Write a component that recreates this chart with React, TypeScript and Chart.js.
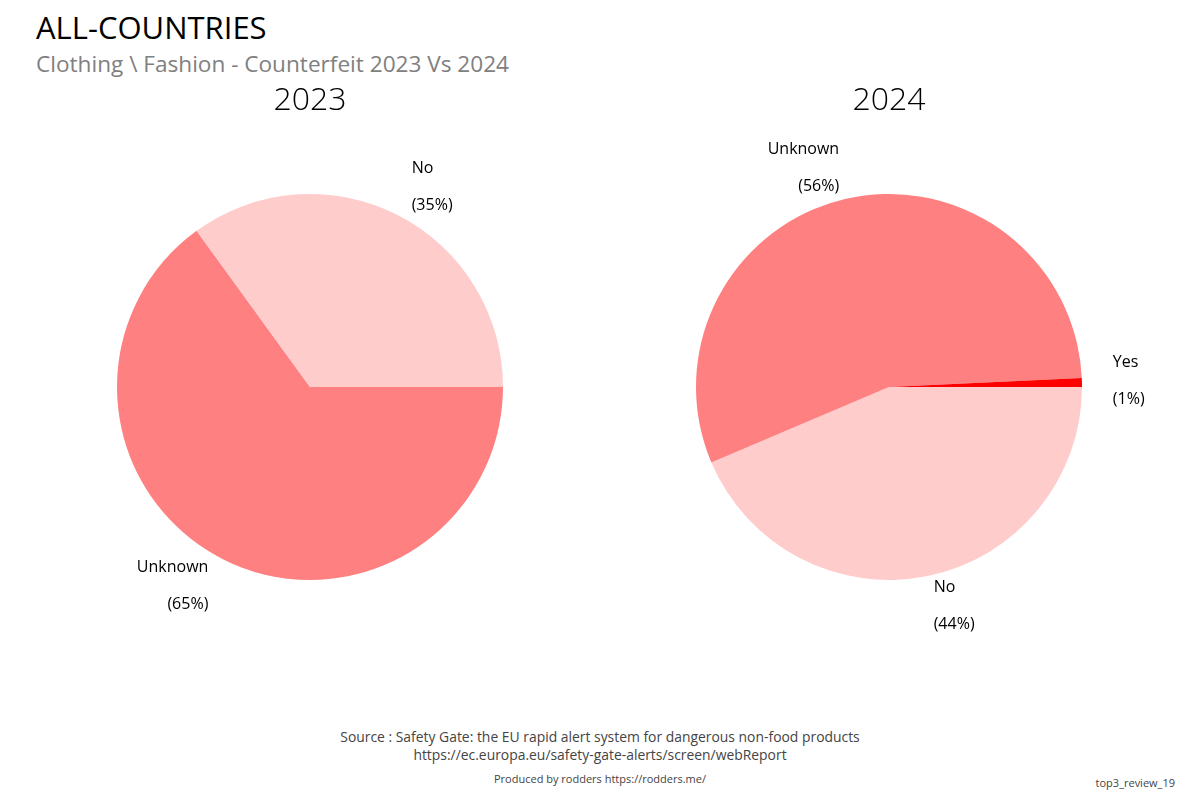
import React, { useEffect, useRef } from "react";
import { Chart, registerables } from "chart.js";

Chart.register(...registerables);

const MAIN_TITLE = "ALL-COUNTRIES";
const SUB_TITLE = "Clothing \\ Fashion - Counterfeit 2023 Vs 2024";
const YEARS = ["2023", "2024"];
// Chart.js draws clockwise from 3 o'clock (rotation 90)
const CATS_2023 = ["Unknown", "No"];
const VALUES_2023 = [65, 35];
const COLORS_2023 = ["#FF8080", "#FFCCCC"];
const CATS_2024 = ["No", "Unknown", "Yes"];
const VALUES_2024 = [58, 74, 1];
const COLORS_2024 = ["#FFCCCC", "#FF8080", "#FF0000"];
const SOURCE_1 = "Source : Safety Gate: the EU rapid alert system for dangerous non-food products";
const SOURCE_2 = "https://ec.europa.eu/safety-gate-alerts/screen/webReport";
const PRODUCED = "Produced by rodders https://rodders.me/";
const TAG = "top3_review_19";

const CW = 580;
const CH = 600;

const outsideLabels = {
  id: "outsideLabels",
  afterDraw(chart: any) {
    const ctx = chart.ctx;
    const meta = chart.getDatasetMeta(0);
    const data = chart.data.datasets[0].data as number[];
    const total = data.reduce((a, b) => a + b, 0);
    ctx.save();
    ctx.font = "16px 'Open Sans'";
    ctx.fillStyle = "#000";
    ctx.textBaseline = "middle";
    meta.data.forEach((arc: any, i: number) => {
      const p = arc.getProps(["x", "y", "startAngle", "endAngle", "outerRadius"], true);
      const mid = (p.startAngle + p.endAngle) / 2;
      const d = p.outerRadius * 1.16;
      const x = p.x + Math.cos(mid) * d;
      const y = p.y + Math.sin(mid) * d - 0.5;
      ctx.textAlign = Math.cos(mid) >= 0 ? "left" : "right";
      const pct = Math.round((data[i] / total) * 100);
      ctx.fillText(String(chart.data.labels[i]), x, y - 18.5);
      ctx.fillText("(" + pct + "%)", x, y + 18.5);
    });
    ctx.restore();
  },
};

function Pie({ labels, values, colors, left }: { labels: string[]; values: number[]; colors: string[]; left: number }) {
  const ref = useRef<HTMLCanvasElement | null>(null);
  useEffect(() => {
    if (!ref.current) return;
    const chart = new Chart(ref.current, {
      type: "pie",
      data: {
        labels,
        datasets: [{ data: values, backgroundColor: colors, borderWidth: 0 }],
      },
      options: {
        responsive: false,
        animation: false,
        rotation: 90,
        layout: { padding: { left: 97, right: 97, top: 107, bottom: 107 } },
        plugins: { legend: { display: false }, tooltip: { enabled: false }, title: { display: false } },
      },
      plugins: [outsideLabels],
    });
    return () => chart.destroy();
  }, []);
  return (
    <canvas
      ref={ref}
      width={CW}
      height={CH}
      style={{ position: "absolute", left, top: 87, width: CW, height: CH }}
    />
  );
}

export default function App() {
  const font = "'Open Sans', sans-serif";
  return (
    <div style={{ position: "fixed", left: 0, top: 0, width: 1200, height: 800, background: "#fff", overflow: "hidden", fontFamily: font }}>
      <Pie labels={CATS_2023} values={VALUES_2023} colors={COLORS_2023} left={20} />
      <Pie labels={CATS_2024} values={VALUES_2024} colors={COLORS_2024} left={599} />
      <div style={{ position: "absolute", left: 36, top: 7, fontSize: 31, color: "#000", lineHeight: "40px", whiteSpace: "nowrap" }}>{MAIN_TITLE}</div>
      <div style={{ position: "absolute", left: 36, top: 49, fontSize: 22.6, fontWeight: 500, color: "#808080", lineHeight: "30px", whiteSpace: "nowrap" }}>{SUB_TITLE}</div>
      <div style={{ position: "absolute", left: 310 - 150, width: 300, top: 76, textAlign: "center", fontSize: 32, fontWeight: 300, lineHeight: "44px" }}>{YEARS[0]}</div>
      <div style={{ position: "absolute", left: 889 - 150, width: 300, top: 76, textAlign: "center", fontSize: 32, fontWeight: 300, lineHeight: "44px" }}>{YEARS[1]}</div>
      <div style={{ position: "absolute", left: 0, width: 1200, top: 728, textAlign: "center", fontSize: 13.9, color: "#444", lineHeight: "18px" }}>
        <div>{SOURCE_1}</div>
        <div>{SOURCE_2}</div>
      </div>
      <div style={{ position: "absolute", left: 0, width: 1200, top: 771, textAlign: "center", fontSize: 11, color: "#444", lineHeight: "16px" }}>{PRODUCED}</div>
      <div style={{ position: "absolute", right: 25, top: 775, fontSize: 11, color: "#444", lineHeight: "16px" }}>{TAG}</div>
    </div>
  );
}
